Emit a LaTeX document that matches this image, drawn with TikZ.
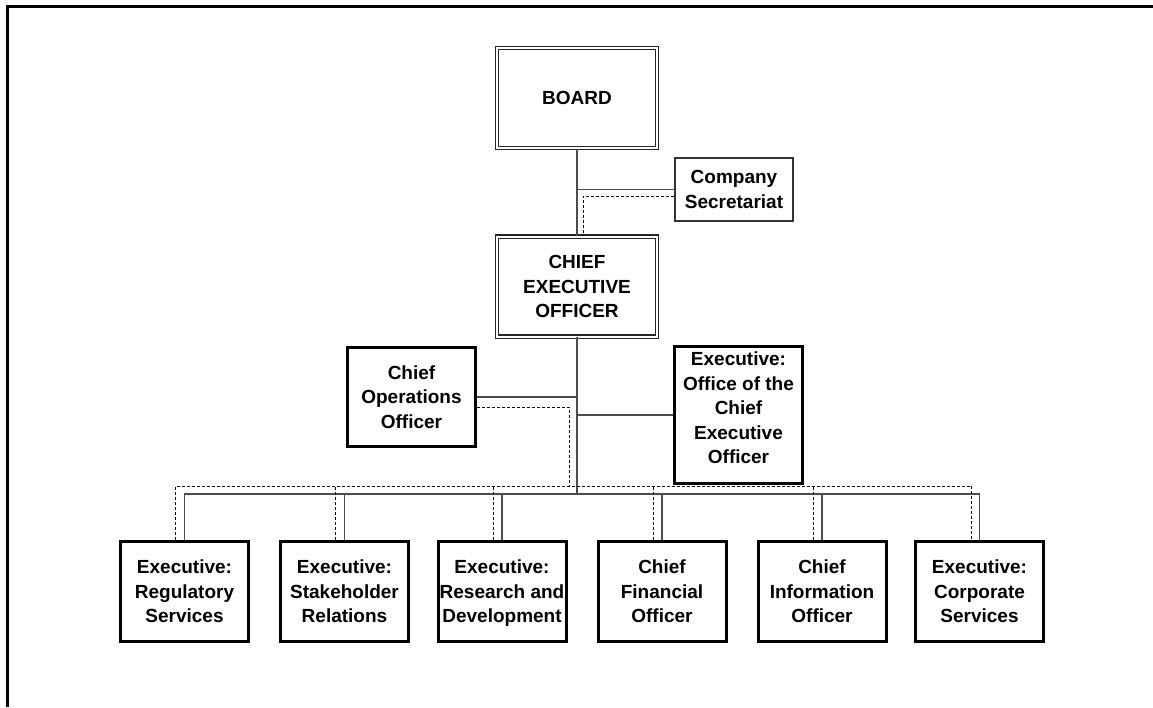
\documentclass[tikz,border=0pt]{standalone}
\usepackage{fontspec}
\setmainfont{Liberation Sans}
\usepackage{tikz}
\usetikzlibrary{positioning}

\begin{document}
\begin{tikzpicture}[x=1pt,y=-1pt,
  txt/.style={font=\fontsize{19}{24.5}\selectfont\bfseries,align=center,inner sep=0pt,text depth=0pt},
  dbox/.style={txt,draw=black!85,double=white,double distance=2pt,line width=1.3pt,
    minimum width=160pt,minimum height=100pt},
  thinbox/.style={txt,draw=black!80,line width=1.4pt,minimum width=118pt,minimum height=63pt},
  thickbox/.style={txt,draw=black,line width=3pt,minimum width=128pt,minimum height=100pt},
  conn/.style={draw=black!70,line width=1.4pt},
  dconn/.style={draw=black,line width=0.8pt,dash pattern=on 3pt off 2pt}]
  \useasboundingbox (0,0) rectangle (1153,707);
  % frame
  \draw[line width=3pt] (7,707) -- (7,6) -- (1153,6);

  % top of the chart
  \node[dbox] (board) at (577,98) {BOARD};
  \node[thinbox] (sec) at (734,189.5) {Company\\Secretariat};
  \node[dbox] (ceo) at (577,286.5) {CHIEF\\EXECUTIVE\\OFFICER};

  \node[thickbox,minimum height=99pt] (coo) at (411.5,397) {Chief\\Operations\\Officer};
  \node[thickbox,minimum height=137pt,text depth=14pt] (exoff) at (738.5,415) {Executive:\\Office of the\\Chief\\Executive\\Officer};

  % bottom row
  \node[thickbox] (b1) at (184.5,591.5) {Executive:\\Regulatory\\Services};
  \node[thickbox] (b2) at (344.5,591.5) {Executive:\\Stakeholder\\Relations};
  \node[thickbox] (b3) at (502,591.5) {Executive:\\Research and\\Development};
  \node[thickbox] (b4) at (662,591.5) {Chief\\Financial\\Officer};
  \node[thickbox] (b5) at (822,591.5) {Chief\\Information\\Officer};
  \node[thickbox] (b6) at (979.5,591.5) {Executive:\\Corporate\\Services};

  \coordinate (bus) at (577,494);
  \coordinate (dbus) at (569,486);

  % solid lines
  \draw[conn] (board.south) -- (ceo.north);
  \draw[conn] (sec.west) -- (sec.west -| board.south);
  \draw[conn] (ceo.south) -- (bus);
  \draw[conn] (coo.east) -- (coo.east -| ceo.south);
  \draw[conn] (exoff.west) -- (exoff.west -| ceo.south);
  \draw[conn] (b1.north) -- (b1.north |- bus) -- (b6.north |- bus) -- (b6.north);
  \foreach \b in {b2,b3,b4,b5}
    \draw[conn] (\b.north) -- (\b.north |- bus);

  % dashed lines
  \draw[dconn] ([yshift=-7pt]sec.west) -| ([xshift=6pt]ceo.north);
  \draw[dconn] ([yshift=-10pt]coo.east) -| (dbus);
  \draw[dconn] ([xshift=-9pt]b1.north) -- ([xshift=-9pt]b1.north |- dbus)
    -- ([xshift=-8pt]b6.north |- dbus) -- ([xshift=-8pt]b6.north);
  \foreach \b in {b2,b3,b4,b5}
    \draw[dconn] ([xshift=-9pt]\b.north) -- ([xshift=-9pt]\b.north |- dbus);
\end{tikzpicture}
\end{document}
